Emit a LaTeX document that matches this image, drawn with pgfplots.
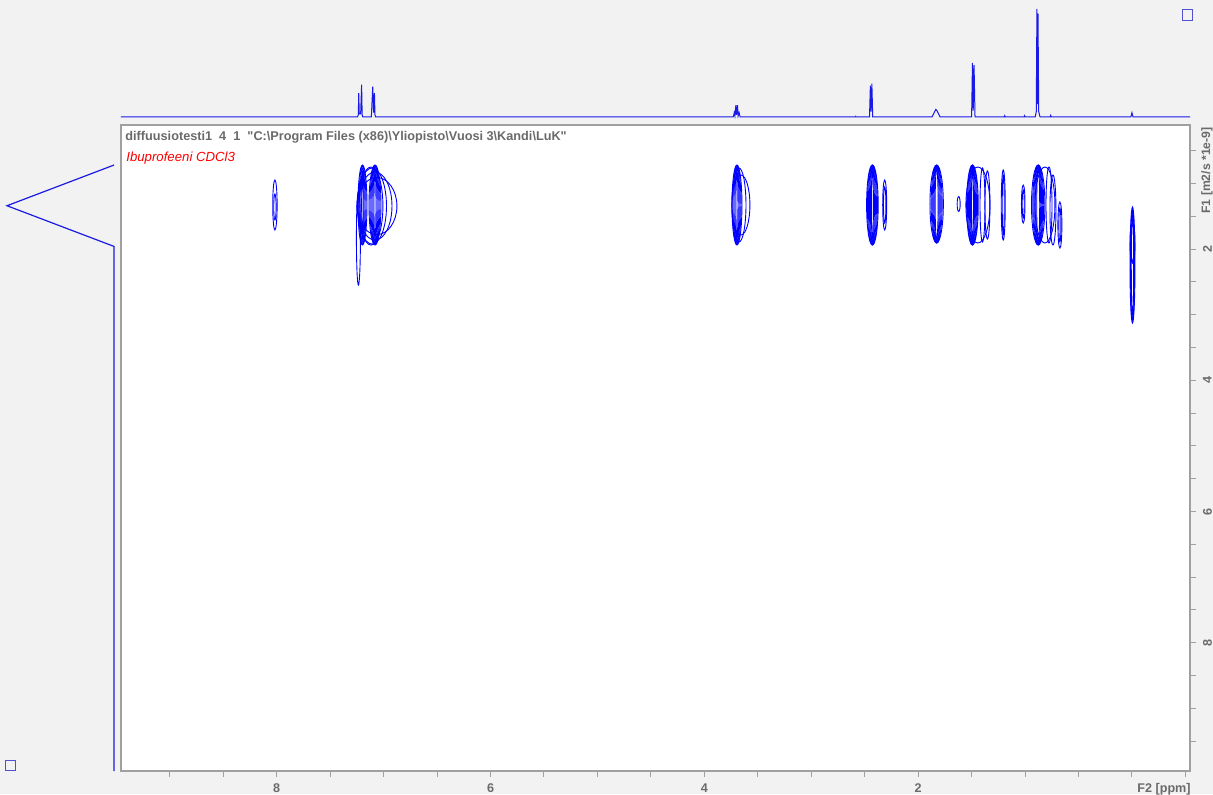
\documentclass[border=0pt]{standalone}
\usepackage{pgfplots}
\usepackage{pgfplotstable}
\pgfplotsset{compat=1.18}
\usepackage{fontspec}
\setmainfont{Liberation Sans}[Ligatures=TeXOff]
\definecolor{bgc}{HTML}{F2F2F2}
\definecolor{axc}{HTML}{A0A0A0}
\definecolor{txc}{HTML}{6A6A6A}
\definecolor{cblue}{HTML}{0000FF}
\definecolor{sblue}{HTML}{1A1AE6}
\definecolor{boxc}{HTML}{5050D0}
\pgfdeclareplotmark{ell}{%
  \pgfpathellipse{\pgfpointorigin}{\pgfpoint{\ellrx pt}{0pt}}{\pgfpoint{0pt}{\ellry pt}}%
  \pgfusepathqstroke}
\pgfplotstableread{
x y rx ry
8.017 1.329 1.1 12.5
8.017 1.36 0.6 6.5
7.236 1.832 1.0 23.5
7.198 1.329 2.25 20
7.198 1.329 1.75 19.5
7.198 1.329 1.25 18.5
7.198 1.329 0.75 17
7.198 1.329 0.4 15
7.081 1.329 3.0 20
7.081 1.329 2.5 19.75
7.081 1.329 2.0 19.5
7.081 1.329 1.5 19
7.081 1.329 1.0 18
7.081 1.329 0.5 16.5
7.119 1.345 6.0 19.5
7.109 1.345 7.25 19
7.081 1.345 8.5 17
7.063 1.345 10.0 14.25
3.695 1.329 2.5 20
3.695 1.329 2.0 19.75
3.695 1.329 1.5 19.25
3.695 1.329 1.0 18.5
3.695 1.329 0.5 17
3.676 1.329 3.5 18.5
3.658 1.329 4.5 15
2.428 1.329 2.9 20
2.428 1.329 2.5 20
2.428 1.329 2.0 19.75
2.428 1.329 1.5 19.25
2.428 1.329 1.0 18.5
2.428 1.329 0.5 17
2.313 1.329 1.0 12.5
2.313 1.329 0.6 9
1.827 1.314 3.35 19.5
1.827 1.314 2.75 19.5
1.827 1.314 2.25 19.25
1.827 1.314 1.75 19
1.827 1.314 1.25 18.5
1.827 1.314 0.75 17.5
1.621 1.314 0.75 3.75
1.492 1.329 2.9 20
1.492 1.329 2.5 20
1.492 1.329 2.0 19.75
1.492 1.329 1.5 19.5
1.492 1.329 1.0 18.75
1.492 1.329 0.5 17.5
1.441 1.329 6.0 19
1.398 1.329 1.25 18.5
1.352 1.329 1.25 17
1.204 1.329 1.0 17.5
1.204 1.329 0.5 15
1.017 1.314 0.9 9.5
1.017 1.314 0.5 7
0.877 1.329 3.35 20
0.877 1.329 2.75 20
0.877 1.329 2.25 19.75
0.877 1.329 1.75 19.5
0.877 1.329 1.25 19
0.877 1.329 0.75 18
0.814 1.329 5.0 19
0.776 1.329 1.5 19
0.739 1.405 1.5 17.5
0.674 1.634 1.0 11.5
0.674 1.634 0.5 8.5
-0.005 2.244 1.25 29
-0.005 2.244 1.0 27.5
-0.005 2.244 0.6 25
-0.005 1.909 1.25 10
-0.005 1.909 0.9 9
}\contours
\begin{document}
\begin{tikzpicture}
\fill[bgc] (-60.5pt,-11.5pt) rectangle (546pt,385.5pt);
% top 1D spectrum
\begin{axis}[at={(0pt,327pt)}, anchor=south west, scale only axis,
  width=534.5pt, height=54pt,
  xmin=-0.543, xmax=9.457, x dir=reverse, ymin=0, ymax=1,
  hide axis, clip=false]
\addplot[sblue, line width=0.5pt] coordinates {
(9.457,0) (7.245,0) (7.237,0.02) (7.233,0.22) (7.228,0.03) (7.215,0.03) (7.206,0.30) (7.201,0.02) (7.195,0)
(7.115,0) (7.102,0.28) (7.094,0.04) (7.086,0.22) (7.081,0.02) (7.075,0)
(3.73,0) (3.72,0.04) (3.714,0.01) (3.705,0.11) (3.699,0.02) (3.69,0.11) (3.684,0.01) (3.675,0.04) (3.665,0)
(2.59,0) (2.585,0.006) (2.58,0)
(2.455,0) (2.447,0.29) (2.441,0.05) (2.433,0.31) (2.425,0)
(1.87,0) (1.86,0.02) (1.85,0.04) (1.84,0.06) (1.835,0.07) (1.825,0.06) (1.815,0.04) (1.805,0.02) (1.795,0)
(1.50,0) (1.492,0.50) (1.485,0.06) (1.477,0.48) (1.468,0)
(1.195,0) (1.19,0.012) (1.185,0)
(1.01,0) (1.005,0.012) (1.0,0)
(0.905,0) (0.895,0.05) (0.889,1.0) (0.884,0.12) (0.879,0.96) (0.872,0.05) (0.86,0)
(0.765,0) (0.76,0.015) (0.755,0)
(0.01,0) (0.0,0.04) (-0.01,0)
(-0.543,0)};
\end{axis}
% left F1 projection
\begin{axis}[at={(-57pt,0pt)}, anchor=south west, scale only axis,
  width=53.5pt, height=323pt,
  xmin=0, xmax=1, x dir=reverse, ymin=0.11, ymax=9.955, y dir=reverse,
  hide axis, clip=false]
\addplot[sblue, line width=0.6pt] coordinates {(0,0.72) (1,1.34) (0,1.96) (0,9.955)};
\end{axis}
% main DOSY contour plot
\begin{axis}[name=main, at={(0pt,0pt)}, anchor=south west, scale only axis,
  width=534.5pt, height=323pt,
  xmin=-0.543, xmax=9.457, x dir=reverse,
  ymin=0.11, ymax=9.955, y dir=reverse,
  axis background/.style={fill=white},
  axis line style={axc, line width=0.6pt},
  tick align=outside,
  xtick pos=lower, ytick pos=right, yticklabel pos=right,
  xtick={0,2,4,6,8}, xticklabels={,2,4,6,8},
  minor xtick={-0.5,0.5,1,1.5,2.5,3,3.5,4.5,5,5.5,6.5,7,7.5,8.5,9},
  ytick={2,4,6,8},
  minor ytick={0.5,1,1.5,2.5,3,3.5,4.5,5,5.5,6.5,7,7.5,8.5,9,9.5},
  major tick length=3pt, minor tick length=3pt,
  every tick/.style={axc, line width=0.5pt},
  /pgf/number format/assume math mode=true,
  ticklabel style={font=\fontsize{6.3}{7}\selectfont\bfseries, text=txc},
  yticklabel style={rotate=90, anchor=north},
  clip=true]
\addplot[scatter, only marks, mark=ell,
  scatter/use mapped color={draw=cblue},
  mark options={solid, line width=0.45pt},
  visualization depends on={\thisrow{rx}\as\ellrx},
  visualization depends on={\thisrow{ry}\as\ellry}]
  table[x=x, y=y] {\contours};
\end{axis}
% texts
\node[anchor=base west, inner sep=0pt, font=\fontsize{6.35}{7}\selectfont\bfseries, text=txc]
  at ([xshift=2pt, yshift=-7.5pt]main.north west)
  {diffuusiotesti1\ \ 4\ \ 1\ \ "C:\textbackslash Program Files (x86)\textbackslash Yliopisto\textbackslash Vuosi 3\textbackslash Kandi\textbackslash LuK"};
\node[anchor=base west, inner sep=0pt, font=\fontsize{6.6}{8}\selectfont\itshape, text=red]
  at ([xshift=2.5pt, yshift=-18.3pt]main.north west) {Ibuprofeeni CDCl3};
\node[anchor=north west, inner sep=0pt, font=\fontsize{6.3}{7}\selectfont\bfseries, text=txc]
  at ([xshift=508pt, yshift=-6pt]main.south west) {F2 [ppm]};
\node[rotate=90, anchor=east, inner sep=0pt, font=\fontsize{6.1}{7}\selectfont\bfseries, text=txc]
  at ([xshift=8.5pt, yshift=-1pt]main.north east) {F1 [m2/s *1e-9]};
% small window markers
\draw[boxc, line width=0.5pt] (530.5pt,375pt) rectangle (535.5pt,380.5pt);
\draw[boxc, line width=0.5pt] (-57.5pt,0.5pt) rectangle (-52.5pt,5.5pt);
\pgfresetboundingbox
\path[use as bounding box] (-60.5pt,-11.5pt) rectangle (546pt,385.5pt);
\end{tikzpicture}
\end{document}
